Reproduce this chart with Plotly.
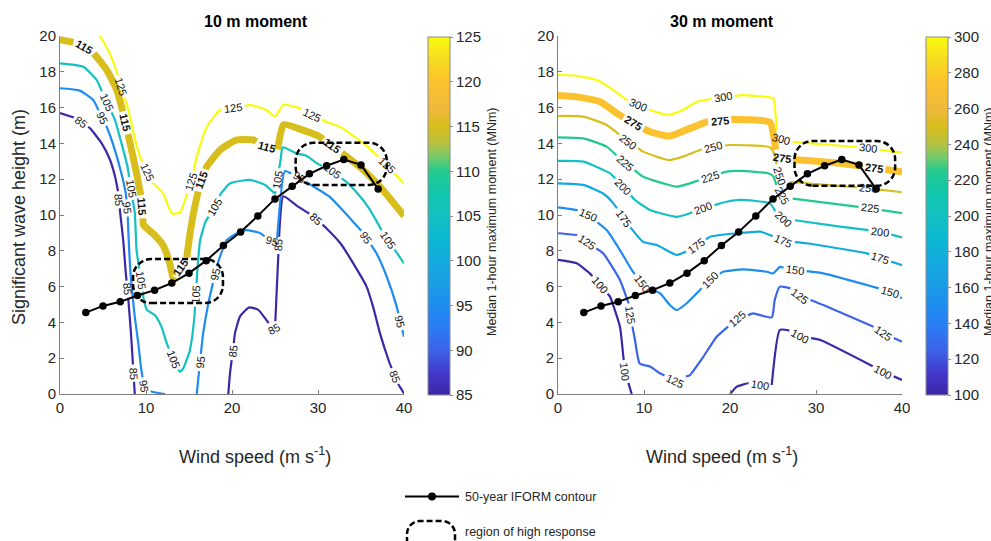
import math
import plotly.graph_objects as go

# ---------------------------------------------------------------- data
# 50-year IFORM environmental contour: wind speed (m/s) vs Hs (m)
iform_ws = [3, 5, 7, 9, 11, 13, 15, 17, 19, 21, 23, 25, 27, 29, 31, 33, 35, 37]
iform_hs = [4.55, 4.92, 5.15, 5.5, 5.8, 6.2, 6.75, 7.45, 8.3, 9.05, 9.95, 10.9,
            11.6, 12.3, 12.75, 13.1, 12.8, 11.45]

# ---- 10 m moment (MNm): iso-lines
m10_levels = [85, 95, 105, 115, 125]
m10_bold_level = 115

m10_085a_ws = [0, 1.9, 3.5, 4.85, 5.8, 6.4, 6.8, 7.0, 7.35, 7.65, 7.95, 8.25, 8.45, 8.7]
m10_085a_hs = [15.7, 15.4, 14.85, 14.0, 13.1, 12.15, 11.2, 10.1, 8.6, 6.75, 5.25, 3.4, 1.9, 0]
m10_085b_ws = [19.57, 19.77, 20.35, 20.95, 22.0, 23.05, 24.0, 24.8, 25.0, 25.5, 25.97,
               27.6, 29.4, 31.0, 32.6, 34.1, 35.65, 36.4, 37.2, 38.2, 39.15, 40]
m10_085b_hs = [0, 1.16, 3.4, 4.35, 4.84, 4.7, 4.13, 3.6, 3.65, 8.98, 11.05,
               10.5, 9.95, 9.25, 8.42, 7.3, 6.0, 4.88, 3.4, 1.9, 0.69, 0.03]
m10_095a_ws = [0, 2.3, 3.9, 5.45, 6.4, 7.15, 7.65, 7.85, 7.95, 8.15, 8.45, 8.7, 9.1,
               9.4, 9.75, 10.7, 12.2]
m10_095a_hs = [17.08, 16.95, 16.4, 14.9, 13.6, 12.3, 11.2, 10.3, 9.0, 7.1, 5.45, 4.3,
               2.85, 1.55, 0.45, 0.13, 0]
m10_095b_ws = [15.9, 16.3, 16.65, 17.25, 18.2, 19.4, 20.9, 21.7, 23.3, 24.4, 25.2,
               26.15, 27.5, 29.45, 31.4, 33.0, 35.3, 36.8, 38.0, 39.15, 40]
m10_095b_hs = [0, 1.9, 3.4, 5.07, 7.1, 8.6, 9.07, 9.16, 8.98, 8.6, 8.5,
               12.45, 12.2, 11.6, 11.0, 10.2, 8.98, 7.86, 6.55, 4.88, 3.2]
m10_105_ws = [0, 2.7, 4.25, 6.4, 7.15, 7.85, 8.7, 8.9, 9.75, 10.1, 11.05, 11.8, 12.4,
              13.55, 13.95, 14.35, 15.1, 15.6, 16.0, 16.3, 16.9, 18.0, 18.7, 19.8,
              22.1, 23.85, 25.0, 25.65, 25.9, 27.5, 28.7, 29.85, 31.6, 33.3, 34.6,
              35.9, 37.6, 40]
m10_105_hs = [18.47, 18.28, 17.55, 15.3, 14.0, 12.7, 10.1, 8.05, 5.25, 4.7, 4.4, 3.75,
              2.85, 1.45, 1.25, 1.45, 2.45, 4.15, 7.1, 8.6, 9.6, 10.5, 11.2, 11.77,
              11.96, 11.68, 11.2, 13.07, 13.78, 13.44, 13.3, 12.9, 12.45, 11.85, 11.2,
              10.4, 8.98, 7.3]
m10_115_ws = [0, 1.95, 3.9, 5.45, 6.6, 7.35, 8.15, 8.9, 9.5, 9.7, 10.85, 12.0, 12.7,
              13.2, 14.7, 15.1, 15.6, 16.2, 17.05, 18.6, 20.5, 22.5, 24.0, 25.3, 26.0,
              28.0, 30.2, 33.1, 35.3, 37.2, 40]
m10_115_hs = [19.8, 19.6, 19.05, 18.1, 16.98, 15.7, 14.0, 12.33, 10.85, 9.45, 8.95,
              8.3, 7.4, 6.45, 7.49, 8.9, 10.3, 11.6, 12.7, 13.63, 14.19, 14.19, 13.8,
              13.63, 15.05, 14.78, 14.37, 13.35, 12.5, 11.58, 9.95]
m10_125_ws = [4.65, 5.6, 6.6, 7.95, 8.55, 9.3, 10.65, 12.0, 13.0, 13.95, 14.55, 15.3,
              15.9, 17.05, 18.6, 20.15, 22.1, 24.0, 25.0, 25.97, 27.9, 29.25, 31.0,
              32.55, 35.3, 36.8, 38.0, 40]
m10_125_hs = [20.0, 19.2, 18.0, 15.87, 14.56, 13.26, 11.86, 11.2, 10.1, 10.13, 10.84,
              11.96, 13.26, 14.93, 15.87, 15.96, 16.15, 15.87, 15.5, 16.15, 15.96, 15.6,
              15.2, 14.93, 14.0, 13.35, 12.8, 11.75]

# inline level labels (level, wind speed, Hs)
m10_label_lev = [85, 85, 85, 85, 85, 85, 85, 85, 85,
                 95, 95, 95, 95, 95, 95, 95, 95, 95,
                 105, 105, 105, 105, 105, 105, 105, 105, 105,
                 115, 115, 115, 115, 115, 115, 115,
                 125, 125, 125, 125, 125, 125]
m10_label_ws = [2.33, 6.6, 7.75, 8.33, 20.15, 25.0, 25.5, 30.0, 38.75,
                4.85, 7.9, 9.69, 17.05, 18.2, 24.6, 27.7, 35.5, 39.5,
                5.5, 8.5, 9.5, 13.0, 15.9, 18.0, 25.4, 31.6, 38.4,
                2.7, 7.36, 9.5, 14.3, 16.67, 24.0, 31.6,
                7.36, 9.88, 15.1, 20.15, 29.27, 38.0]
m10_label_hs = [15.12, 10.84, 5.85, 1.16, 2.36, 3.5, 8.3, 9.9, 0.97,
                15.4, 10.4, 0.41, 1.72, 6.65, 8.5, 12.05, 8.7, 4.04,
                16.33, 11.5, 6.37, 1.9, 5.53, 10.46, 11.96, 12.4, 8.7,
                19.3, 15.12, 10.46, 7.0, 11.9, 13.72, 13.8,
                17.2, 12.33, 11.86, 15.96, 15.6, 12.8]

# regions of high response (wind-speed span, Hs span)
m10_region_ws = [[8.5, 18.95], [27.4, 38.0]]
m10_region_hs = [[5.08, 7.54], [11.68, 14.04]]
m10_cbar_ticks = [85, 90, 95, 100, 105, 110, 115, 120, 125]

# ---- 30 m moment (MNm): iso-lines
m30_levels = [100, 125, 150, 175, 200, 225, 250, 275, 300]
m30_bold_level = 275

m30_300_ws = [0, 2.15, 4.5, 6.45, 8.0, 10.7, 12.85, 14.55, 16.15, 19.2, 21.55, 24.65,
              25.05, 25.5, 27.0, 34.7, 40]
m30_300_hs = [17.82, 17.78, 17.54, 16.98, 16.42, 15.87, 15.6, 15.87, 16.33, 16.6, 16.7,
              16.57, 16.52, 14.3, 14.1, 13.8, 13.48]
m30_275_ws = [0, 2.15, 4.9, 6.85, 8.75, 10.7, 13.0, 15.35, 17.3, 20.4, 24.65, 25.3,
              25.6, 27.0, 32.8, 40]
m30_275_hs = [16.67, 16.6, 16.33, 15.68, 15.12, 14.65, 14.41, 14.84, 15.2, 15.34, 15.17,
              13.7, 13.2, 13.11, 12.89, 12.42]
m30_250_ws = [0, 2.95, 5.65, 8.2, 9.9, 12.85, 14.55, 16.5, 18.05, 20.0, 24.65, 25.25,
              25.45, 25.8, 27.0, 36.1, 40]
m30_250_hs = [15.53, 15.5, 15.03, 14.1, 13.54, 13.07, 13.26, 13.63, 13.82, 13.91, 13.78,
              13.26, 12.7, 12.2, 11.86, 11.49, 11.27]
m30_225_ws = [0, 2.95, 5.65, 7.8, 9.9, 12.25, 13.8, 15.35, 17.65, 19.6, 21.15, 24.45,
              25.05, 25.45, 26.0, 27.0, 36.3, 40]
m30_225_hs = [14.34, 14.28, 13.82, 12.9, 12.14, 11.77, 11.58, 11.77, 12.14, 12.42, 12.46,
              12.33, 12.14, 11.58, 11.1, 10.93, 10.37, 10.1]
m30_200_ws = [0, 2.95, 6.05, 7.6, 8.95, 10.7, 13.8, 15.35, 16.9, 19.6, 21.2, 24.65, 25.4,
              26.2, 27.35, 32.8, 37.45, 40]
m30_200_hs = [13.02, 12.98, 12.33, 11.58, 10.84, 10.28, 9.9, 10.1, 10.37, 10.74, 10.84,
              10.65, 10.1, 9.75, 9.72, 9.35, 9.07, 8.75]
m30_175_ws = [0, 2.95, 5.25, 6.45, 7.6, 8.35, 9.9, 11.5, 13.8, 15.35, 16.1, 17.7, 20.8,
              23.5, 24.65, 26.2, 28.9, 35.9, 37.45, 40]
m30_175_hs = [11.77, 11.68, 11.2, 10.65, 9.86, 9.35, 8.5, 8.32, 7.77, 8.04, 8.3, 8.79,
              8.98, 9.07, 8.88, 8.55, 8.42, 7.86, 7.6, 7.2]
m30_150_ws = [0, 2.17, 3.55, 5.66, 7.2, 8.57, 9.73, 11.1, 11.86, 13.0, 13.8, 14.97, 16.5,
              17.67, 19.2, 21.5, 24.3, 25.0, 25.8, 27.5, 30.85, 35.9, 38.6, 40]
m30_150_hs = [10.43, 10.28, 10.0, 9.16, 8.04, 6.93, 6.18, 5.81, 5.63, 4.97, 4.69, 5.07,
              5.81, 6.37, 6.83, 6.96, 6.83, 6.74, 7.1, 6.95, 6.74, 6.09, 5.72, 5.35]
m30_125_ws = [0, 2.15, 3.35, 5.25, 7.2, 8.2, 8.4, 8.95, 9.5, 10.7, 11.85, 13.6, 15.35,
              16.9, 18.45, 20.8, 22.7, 24.85, 25.2, 25.8, 27.0, 28.1, 30.85, 36.7, 37.8, 40]
m30_125_hs = [8.98, 8.88, 8.5, 7.86, 6.37, 5.07, 4.41, 3.02, 1.7, 1.53, 1.16, 0.75, 1.06,
              2.08, 3.2, 4.2, 4.5, 4.28, 5.25, 6.0, 5.9, 5.5, 4.97, 3.76, 3.39, 2.92]
m30_100a_ws = [0, 2.17, 3.7, 4.9, 6.05, 7.2, 7.6, 7.8, 8.57]
m30_100a_hs = [7.49, 7.3, 6.74, 6.1, 5.44, 3.76, 2.08, 1.25, 0]
m30_100b_ws = [20.0, 20.8, 22.1, 23.5, 24.85, 25.8, 27.0, 28.1, 30.5, 36.7, 37.8, 40]
m30_100b_hs = [0, 0.41, 0.6, 0.5, 0.5, 3.58, 3.54, 3.25, 3.02, 1.53, 1.25, 0.78]

m30_label_lev = [300, 300, 300, 300,
                 275, 275, 275, 275,
                 250, 250, 250, 250,
                 225, 225, 225, 225,
                 200, 200, 200, 200,
                 175, 175, 175, 175,
                 150, 150, 150, 150, 150,
                 125, 125, 125, 125, 125, 125,
                 100, 100, 100, 100, 100]
m30_label_ws = [9.34, 19.2, 26.0, 36.1,
                8.75, 18.8, 26.0, 36.7,
                8.18, 18.05, 25.8, 36.1,
                7.8, 17.65, 26.0, 36.3,
                7.6, 16.9, 26.2, 37.45,
                7.6, 16.13, 26.2, 37.45,
                3.53, 9.73, 17.67, 27.56, 38.6,
                3.34, 8.37, 13.6, 20.8, 28.1, 37.8,
                4.88, 7.8, 23.5, 28.1, 37.8]
m30_label_hs = [16.15, 16.6, 14.3, 13.75,
                15.12, 15.25, 13.2, 12.55,
                14.1, 13.82, 12.2, 11.49,
                12.9, 12.14, 11.1, 10.37,
                11.58, 10.37, 9.75, 9.07,
                9.83, 8.23, 8.55, 7.58,
                10.0, 6.18, 6.37, 6.93, 5.72,
                8.5, 4.41, 0.75, 4.2, 5.5, 3.39,
                6.09, 1.25, 0.45, 3.25, 1.25]

m30_region_ws = [[27.5, 39.2]]
m30_region_hs = [[11.64, 14.13]]
m30_cbar_ticks = [100, 120, 140, 160, 180, 200, 220, 240, 260, 280, 300]

# ---------------------------------------------------------------- styling
FONT = "Liberation Sans, Arial, Helvetica, sans-serif"
INK = "#262626"
AXIS_GREY = "#7f7f7f"
W, H = 991, 541
PLOT_TOP, PLOT_BOTTOM = 36, 394
PANEL_X = {"m10": (60, 404), "m30": (558, 902)}
WS_RANGE, HS_RANGE = (0, 40), (0, 20)
SX = (PANEL_X["m10"][1] - PANEL_X["m10"][0]) / (WS_RANGE[1] - WS_RANGE[0])
SY = (PLOT_BOTTOM - PLOT_TOP) / (HS_RANGE[1] - HS_RANGE[0])
LABEL_SIZE = 11

# parula-like map
PARULA = [
    [0.000, (62, 38, 168)], [0.060, (68, 56, 204)], [0.125, (60, 99, 232)],
    [0.190, (42, 124, 244)], [0.250, (30, 140, 240)], [0.310, (26, 157, 230)],
    [0.375, (18, 170, 222)], [0.440, (12, 184, 208)], [0.500, (20, 192, 194)],
    [0.560, (16, 198, 174)], [0.625, (36, 201, 142)], [0.660, (108, 203, 110)],
    [0.700, (180, 194, 68)], [0.750, (216, 190, 28)], [0.800, (240, 184, 60)],
    [0.875, (252, 194, 46)], [0.940, (246, 220, 30)], [1.000, (249, 251, 14)],
]
COLORSCALE = [[p, "rgb(%d,%d,%d)" % c] for p, c in PARULA]


def parula(frac):
    frac = min(1.0, max(0.0, frac))
    for (p0, c0), (p1, c1) in zip(PARULA[:-1], PARULA[1:]):
        if p0 <= frac <= p1:
            t = (frac - p0) / (p1 - p0)
            return "rgb(%d,%d,%d)" % tuple(round(a + t * (b - a)) for a, b in zip(c0, c1))
    return "rgb(%d,%d,%d)" % PARULA[-1][1]


def px(v_ws, v_hs):
    return v_ws * SX, v_hs * SY


def project(xs, ys, lx, ly):
    """nearest point of a polyline (in pixel metric): distance, arc length, point, direction"""
    P = [px(x, y) for x, y in zip(xs, ys)]
    q = px(lx, ly)
    best = None
    s_acc = 0.0
    for i in range(len(P) - 1):
        (x0, y0), (x1, y1) = P[i], P[i + 1]
        dx, dy = x1 - x0, y1 - y0
        L = math.hypot(dx, dy)
        t = 0.0 if L == 0 else max(0.0, min(1.0, ((q[0] - x0) * dx + (q[1] - y0) * dy) / (L * L)))
        cx, cy = x0 + t * dx, y0 + t * dy
        d = math.hypot(cx - q[0], cy - q[1])
        if best is None or d < best[0]:
            best = (d, s_acc + t * L, (cx / SX, cy / SY), (dx, dy))
        s_acc += L
    return best


def cut_gaps(xs, ys, gaps):
    """split a polyline, leaving holes of given half length around arc positions"""
    P = [px(x, y) for x, y in zip(xs, ys)]
    cum = [0.0]
    for i in range(1, len(P)):
        cum.append(cum[-1] + math.dist(P[i - 1], P[i]))
    total = cum[-1]

    def at(s):
        for i in range(len(P) - 1):
            if cum[i] <= s <= cum[i + 1]:
                seg = cum[i + 1] - cum[i]
                t = 0.0 if seg == 0 else (s - cum[i]) / seg
                return xs[i] + t * (xs[i + 1] - xs[i]), ys[i] + t * (ys[i + 1] - ys[i])
        return xs[-1], ys[-1]

    keep, start = [], 0.0
    for a, b in sorted((max(0.0, s - h), min(total, s + h)) for s, h in gaps):
        if a > start:
            keep.append((start, a))
        start = max(start, b)
    if start < total:
        keep.append((start, total))
    ox, oy = [], []
    for a, b in keep:
        pa, pb = at(a), at(b)
        ox.append(pa[0]); oy.append(pa[1])
        for i in range(len(P)):
            if a < cum[i] < b:
                ox.append(xs[i]); oy.append(ys[i])
        ox.append(pb[0]); oy.append(pb[1])
        ox.append(None); oy.append(None)
    return ox, oy


def rounded_rect_path(x0, x1, y0, y1, rx, ry):
    k = 0.5523
    return (f"M {x0 + rx},{y0} L {x1 - rx},{y0} "
            f"C {x1 - rx + k * rx},{y0} {x1},{y0 + ry - k * ry} {x1},{y0 + ry} "
            f"L {x1},{y1 - ry} "
            f"C {x1},{y1 - ry + k * ry} {x1 - rx + k * rx},{y1} {x1 - rx},{y1} "
            f"L {x0 + rx},{y1} "
            f"C {x0 + rx - k * rx},{y1} {x0},{y1 - ry + k * ry} {x0},{y1 - ry} "
            f"L {x0},{y0 + ry} "
            f"C {x0},{y0 + ry - k * ry} {x0 + rx - k * rx},{y0} {x0 + rx},{y0} Z")


panels = {
    "m10": dict(
        xa="x", ya="y", cmin=85, cmax=125, bold=m10_bold_level, ticks=m10_cbar_ticks,
        segments=[(85, m10_085a_ws, m10_085a_hs), (85, m10_085b_ws, m10_085b_hs),
                  (95, m10_095a_ws, m10_095a_hs), (95, m10_095b_ws, m10_095b_hs),
                  (105, m10_105_ws, m10_105_hs), (115, m10_115_ws, m10_115_hs),
                  (125, m10_125_ws, m10_125_hs)],
        labels=list(zip(m10_label_lev, m10_label_ws, m10_label_hs)),
        regions=list(zip(m10_region_ws, m10_region_hs)),
    ),
    "m30": dict(
        xa="x2", ya="y2", cmin=100, cmax=300, bold=m30_bold_level, ticks=m30_cbar_ticks,
        segments=[(100, m30_100a_ws, m30_100a_hs), (100, m30_100b_ws, m30_100b_hs),
                  (125, m30_125_ws, m30_125_hs), (150, m30_150_ws, m30_150_hs),
                  (175, m30_175_ws, m30_175_hs), (200, m30_200_ws, m30_200_hs),
                  (225, m30_225_ws, m30_225_hs), (250, m30_250_ws, m30_250_hs),
                  (275, m30_275_ws, m30_275_hs), (300, m30_300_ws, m30_300_hs)],
        labels=list(zip(m30_label_lev, m30_label_ws, m30_label_hs)),
        regions=list(zip(m30_region_ws, m30_region_hs)),
    ),
}

fig = go.Figure()
annotations, shapes = [], []

for key, pn in panels.items():
    segs = pn["segments"]
    gaps = {i: [] for i in range(len(segs))}
    # place every label on its iso-line and open a hole in the line for it
    for lev, lx, ly in pn["labels"]:
        cands = [(project(xs, ys, lx, ly), i) for i, (lv, xs, ys) in enumerate(segs) if lv == lev]
        (d, s, (cx, cy), (dx, dy)), idx = min(cands, key=lambda c: c[0][0])
        text = str(lev)
        half = len(text) * 0.556 * LABEL_SIZE / 2 + 2.5
        gaps[idx].append((s, half))
        ang = math.degrees(math.atan2(dy, dx))
        if ang > 90:
            ang -= 180
        if ang <= -90:
            ang += 180
        bold = lev == pn["bold"]
        annotations.append(dict(
            x=cx, y=cy, xref=pn["xa"], yref=pn["ya"], showarrow=False,
            text=f"<b>{text}</b>" if bold else text, textangle=-ang,
            font=dict(family=FONT, size=LABEL_SIZE, color="#111111"),
            xanchor="center", yanchor="middle", borderpad=0))
    for i, (lev, xs, ys) in enumerate(segs):
        gx, gy = cut_gaps(xs, ys, gaps[i])
        bold = lev == pn["bold"]
        fig.add_trace(go.Scatter(
            x=gx, y=gy, mode="lines", xaxis=pn["xa"], yaxis=pn["ya"],
            line=dict(color=parula((lev - pn["cmin"]) / (pn["cmax"] - pn["cmin"])),
                      width=7 if bold else 2.2, shape="spline", smoothing=0.5),
            connectgaps=False, showlegend=False, hoverinfo="skip"))

    # 50-year IFORM contour
    fig.add_trace(go.Scatter(
        x=iform_ws, y=iform_hs, mode="lines+markers", xaxis=pn["xa"], yaxis=pn["ya"],
        line=dict(color="black", width=2), marker=dict(color="black", size=7.5),
        showlegend=False, hoverinfo="skip"))

    # high-response regions
    for (x0, x1), (y0, y1) in pn["regions"]:
        shapes.append(dict(
            type="path", xref=pn["xa"], yref=pn["ya"],
            path=rounded_rect_path(x0, x1, y0, y1, 18 / SX, 18 / SY),
            line=dict(color="black", width=2.5, dash="6px,3px"), layer="above"))

    # colour bar
    bar_left = PANEL_X[key][1] + 24
    fig.add_trace(go.Scatter(
        x=[None], y=[None], mode="markers", xaxis=pn["xa"], yaxis=pn["ya"],
        marker=dict(color=[pn["cmin"]], cmin=pn["cmin"], cmax=pn["cmax"],
                    colorscale=COLORSCALE, showscale=True,
                    colorbar=dict(
                        x=bar_left / W, xanchor="left", xpad=0,
                        y=(H - 37) / H, yanchor="top", ypad=0,
                        len=358 / H, lenmode="fraction",
                        thickness=22, thicknessmode="pixels",
                        outlinewidth=1, outlinecolor="#8c8c8c",
                        tickmode="array", tickvals=pn["ticks"],
                        ticks="outside", ticklen=3, tickcolor="#8c8c8c",
                        tickfont=dict(family=FONT, size=15, color=INK))),
        showlegend=False, hoverinfo="skip"))

axis_common = dict(
    showgrid=False, zeroline=False, showline=True, linecolor=AXIS_GREY, linewidth=1,
    ticks="inside", ticklen=4, tickcolor=AXIS_GREY, mirror=False,
    tickfont=dict(family=FONT, size=15, color=INK))

fig.update_layout(
    width=W, height=H, margin=dict(l=0, r=0, t=0, b=0, pad=0, autoexpand=False),
    paper_bgcolor="white", plot_bgcolor="white", showlegend=False,
    xaxis=dict(domain=[PANEL_X["m10"][0] / W, PANEL_X["m10"][1] / W], range=list(WS_RANGE),
               tickvals=[0, 10, 20, 30, 40], anchor="y", **axis_common),
    yaxis=dict(domain=[(H - PLOT_BOTTOM) / H, (H - PLOT_TOP) / H], range=list(HS_RANGE),
               tickvals=list(range(0, 21, 2)), anchor="x", **axis_common),
    xaxis2=dict(domain=[PANEL_X["m30"][0] / W, PANEL_X["m30"][1] / W], range=list(WS_RANGE),
                tickvals=[0, 10, 20, 30, 40], anchor="y2", **axis_common),
    yaxis2=dict(domain=[(H - PLOT_BOTTOM) / H, (H - PLOT_TOP) / H], range=list(HS_RANGE),
                tickvals=list(range(0, 21, 2)), anchor="x2", **axis_common),
)


def paper_text(text, x_px, y_px, size, angle=0, xanchor="center", bold=False):
    annotations.append(dict(
        x=x_px / W, y=(H - y_px) / H, xref="paper", yref="paper", showarrow=False,
        text=f"<b>{text}</b>" if bold else text, textangle=angle,
        xanchor=xanchor, yanchor="middle",
        font=dict(family=FONT, size=size, color="black" if bold else INK)))


paper_text("10 m moment", 256, 22, 16, bold=True)
paper_text("30 m moment", 722, 22, 16, bold=True)
paper_text("Wind speed (m s<sup>-1</sup>)", 255, 455, 18)
paper_text("Wind speed (m s<sup>-1</sup>)", 722, 455, 18)
paper_text("Significant wave height (m)", 19, 217, 18, angle=-90)
paper_text("Median 1-hour maximum moment (MNm)", 492, 222, 12.5, angle=-90)
paper_text("Median 1-hour maximum moment (MNm)", 989, 222, 12.5, angle=-90)

# key below the panels
key_y1, key_y2 = 496.5, 532
shapes.append(dict(type="line", xref="paper", yref="paper",
                   x0=405 / W, x1=459 / W, y0=(H - key_y1) / H, y1=(H - key_y1) / H,
                   line=dict(color="black", width=2)))
shapes.append(dict(type="circle", xref="paper", yref="paper",
                   xsizemode="pixel", ysizemode="pixel",
                   xanchor=432 / W, yanchor=(H - key_y1) / H, x0=-4, x1=4, y0=-4, y1=4,
                   fillcolor="black", line=dict(color="black", width=0)))
paper_text("50-year IFORM contour", 463, key_y1, 12.5, xanchor="left")
shapes.append(dict(type="path", xref="paper", yref="paper",
                   path=rounded_rect_path(407 / W, 455 / W, (H - 556) / H, (H - 521) / H,
                                          13 / W, 13 / H),
                   line=dict(color="black", width=2.5, dash="6px,3px")))
paper_text("region of high response", 463, key_y2, 12.5, xanchor="left")

fig.update_layout(annotations=annotations, shapes=shapes)
fig.write_html("out.html")
